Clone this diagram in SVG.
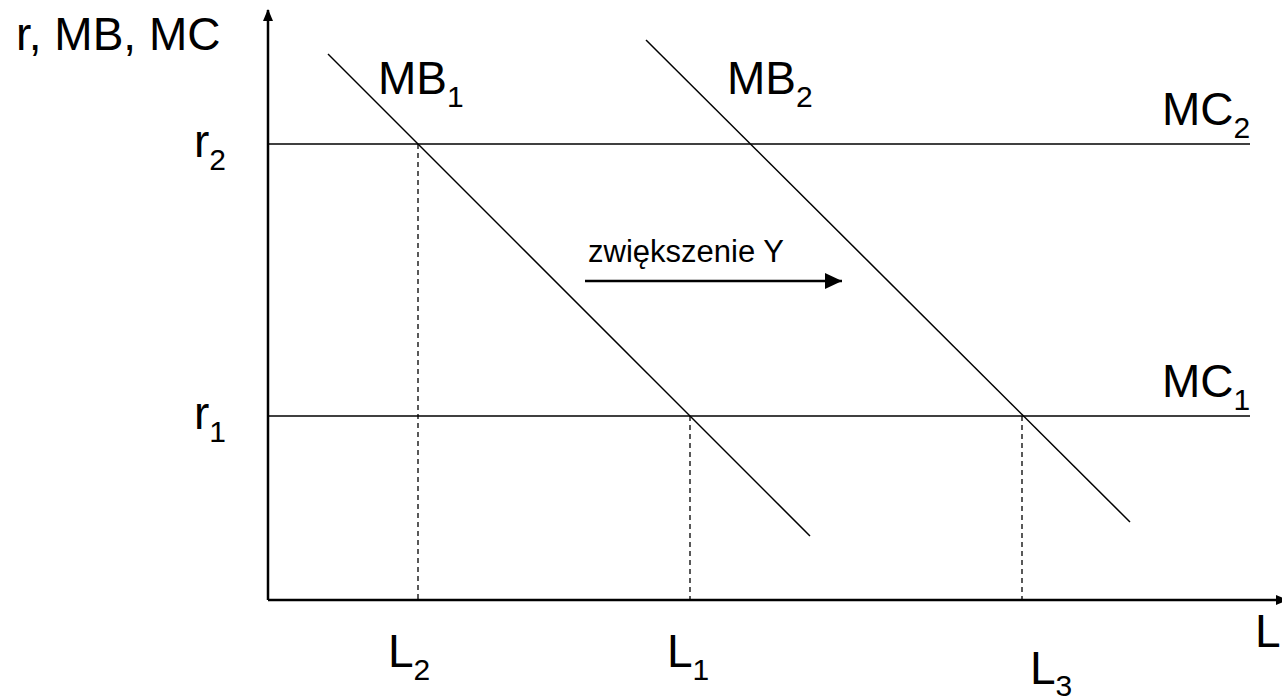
<svg xmlns="http://www.w3.org/2000/svg" width="1282" height="700" viewBox="0 0 1282 700">
<style>
.ln{stroke:#000;stroke-width:1.5;fill:none}
.ax{stroke:#000;stroke-width:2.5;fill:none}
.ds{stroke:#000;stroke-width:1.3;stroke-dasharray:5,4;fill:none}
.t{font-family:"Liberation Sans",Arial,sans-serif;font-size:46px;fill:#000}
.s{font-size:30px}
.sm{font-family:"Liberation Sans",Arial,sans-serif;font-size:31px;fill:#000}
</style>
<defs>
<marker id="ah" markerWidth="12" markerHeight="10" refX="11" refY="5" orient="auto" markerUnits="userSpaceOnUse">
<path d="M0,0 L12,5 L0,10 Z" fill="#000"/>
</marker>
<marker id="ah2" markerWidth="17" markerHeight="16" refX="17" refY="8" orient="auto" markerUnits="userSpaceOnUse">
<path d="M0,0 L17,8 L0,16 Z" fill="#000"/>
</marker>
</defs>
<g id="axes">
<line class="ax" x1="268" y1="600" x2="268" y2="10" marker-end="url(#ah)"/>
<line class="ax" x1="268" y1="600" x2="1287" y2="600" marker-end="url(#ah)"/>
</g>
<g id="connectors">
<line class="ln" x1="268" y1="144" x2="1250" y2="144"/>
<line class="ln" x1="268" y1="416" x2="1250" y2="416"/>
<line class="ln" x1="328" y1="54" x2="810" y2="536"/>
<line class="ln" x1="646" y1="40" x2="1130" y2="522"/>
<line class="ds" x1="418" y1="144" x2="418" y2="600"/>
<line class="ds" x1="690" y1="416" x2="690" y2="600"/>
<line class="ds" x1="1022" y1="416" x2="1022" y2="600"/>
<line x1="585" y1="281" x2="842" y2="281" stroke="#000" stroke-width="2.5" marker-end="url(#ah2)"/>
</g>
<g id="labels">
<text class="t" x="16" y="50">r, MB, MC</text>
<text class="t" x="378" y="94">MB<tspan class="s" dy="13">1</tspan></text>
<text class="t" x="727" y="94">MB<tspan class="s" dy="13">2</tspan></text>
<text class="t" x="1162" y="125">MC<tspan class="s" dy="13">2</tspan></text>
<text class="t" x="1162" y="397">MC<tspan class="s" dy="13">1</tspan></text>
<text class="t" x="194" y="157">r<tspan class="s" dy="13">2</tspan></text>
<text class="t" x="194" y="429">r<tspan class="s" dy="13">1</tspan></text>
<text class="t" x="388" y="667">L<tspan class="s" dy="13">2</tspan></text>
<text class="t" x="667" y="667">L<tspan class="s" dy="13">1</tspan></text>
<text class="t" x="1030" y="684">L<tspan class="s" dy="12">3</tspan></text>
<text class="t" x="1255" y="647">L</text>
<text class="sm" x="588" y="262">zwiększenie Y</text>
</g>
</svg>
